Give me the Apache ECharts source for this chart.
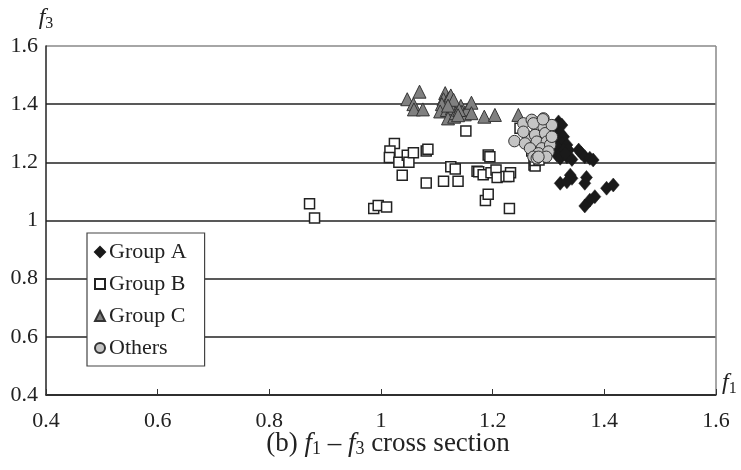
<!DOCTYPE html>
<html><head><meta charset="utf-8">
<script src="https://cdn.jsdelivr.net/npm/echarts@6/dist/echarts.min.js"></script>
<style>html,body{margin:0;padding:0;background:#fff}#c{width:741px;height:470px}</style>
</head><body><div id="c"></div>
<script>
const xTicks = [0.4, 0.6, 0.8, 1.0, 1.2, 1.4, 1.6];
const yTicks = [0.4, 0.6, 0.8, 1.0, 1.2, 1.4, 1.6];
const seriesNames = ['Group A', 'Group B', 'Group C', 'Others'];

const groupA = [
  [1.318,1.339],[1.324,1.328],[1.312,1.311],[1.321,1.300],[1.327,1.288],[1.315,1.277],
  [1.324,1.265],[1.333,1.260],[1.318,1.248],[1.327,1.242],[1.336,1.242],[1.315,1.225],
  [1.321,1.214],[1.333,1.219],[1.342,1.210],[1.354,1.242],[1.359,1.231],[1.365,1.219],
  [1.374,1.214],[1.380,1.208],[1.339,1.156],[1.342,1.145],[1.321,1.128],[1.333,1.133],
  [1.368,1.148],[1.365,1.128],[1.383,1.082],[1.374,1.070],[1.365,1.050],[1.404,1.111],
  [1.416,1.122],[1.309,1.296],[1.313,1.258],[1.330,1.230]
];
const groupB = [
  [0.872,1.058],[0.881,1.009],[0.987,1.041],[0.995,1.052],[1.010,1.046],
  [1.187,1.069],[1.192,1.090],[1.230,1.041],
  [1.024,1.265],[1.016,1.239],[1.015,1.217],[1.032,1.200],[1.047,1.224],[1.050,1.200],
  [1.058,1.233],[1.081,1.239],[1.084,1.245],[1.038,1.156],[1.081,1.129],[1.112,1.135],
  [1.138,1.135],[1.125,1.185],[1.133,1.177],[1.152,1.308],[1.172,1.169],
  [1.192,1.225],[1.195,1.219],[1.175,1.168],[1.183,1.157],[1.197,1.164],[1.206,1.174],
  [1.208,1.148],[1.224,1.151],[1.232,1.164],[1.229,1.151],
  [1.274,1.191],[1.249,1.317],[1.270,1.239],[1.276,1.187],[1.276,1.206],[1.283,1.208]
];
const groupC = [
  [1.047,1.417],[1.069,1.443],[1.058,1.400],[1.059,1.382],[1.075,1.382],
  [1.115,1.438],[1.112,1.417],[1.121,1.420],[1.109,1.400],[1.124,1.403],[1.106,1.375],
  [1.118,1.380],[1.127,1.386],[1.120,1.351],[1.131,1.357],[1.134,1.369],[1.143,1.394],
  [1.145,1.374],[1.150,1.365],[1.155,1.382],[1.162,1.405],[1.162,1.369],
  [1.185,1.357],[1.204,1.363],[1.246,1.363],[1.125,1.430],[1.130,1.415],[1.140,1.380],
  [1.120,1.395],[1.138,1.362]
];
const others = [
  [1.239,1.273],[1.255,1.334],[1.270,1.346],[1.291,1.351],[1.279,1.323],[1.291,1.323],
  [1.264,1.288],[1.276,1.294],[1.294,1.300],[1.258,1.265],[1.279,1.271],[1.297,1.271],
  [1.267,1.248],[1.288,1.248],[1.303,1.260],[1.282,1.231],[1.300,1.237],[1.273,1.219],
  [1.279,1.214],[1.296,1.219],[1.306,1.328],[1.306,1.288],[1.255,1.305],[1.273,1.334],
  [1.290,1.348],[1.282,1.219]
];

const serif = 'Liberation Serif';
const chart = echarts.init(document.getElementById('c'), null, {renderer: 'canvas'});
chart.setOption({
  animation: false,
  backgroundColor: '#fff',
  textStyle: {fontFamily: serif},
  grid: {left: 46, right: 25, top: 46, bottom: 75, containLabel: false},
  title: {
    text: '(b) {i|f}{s|1}{n| – }{i|f}{s|3}{n| cross section}',
    left: 383, textAlign: 'center', top: 424,
    textStyle: {
      fontFamily: serif, fontSize: 27, fontWeight: 'normal', color: '#222',
      rich: {
        i: {fontFamily: serif, fontStyle: 'italic', fontSize: 27, color: '#222'},
        s: {fontFamily: serif, fontSize: 18, color: '#222', padding: [11, 0, 0, 0]},
        n: {fontFamily: serif, fontSize: 27, color: '#222'}
      }
    }
  },
  legend: {
    orient: 'vertical', left: 87, top: 233,
    backgroundColor: '#fff', borderColor: '#444', borderWidth: 1.2, borderRadius: 0,
    padding: [8, 18, 7, 7],
    itemGap: 10, itemWidth: 10, itemHeight: 10,
    textStyle: {fontFamily: serif, fontSize: 22, color: '#222', padding: [0, 0, 0, -1]},
    data: seriesNames
  },
  xAxis: {
    type: 'value', min: xTicks[0], max: xTicks[xTicks.length - 1], interval: 0.2,
    name: '{i|f}{s|1}', nameLocation: 'end', nameGap: 6,
    nameTextStyle: {
      rich: {
        i: {fontFamily: serif, fontStyle: 'italic', fontSize: 24, color: '#222'},
        s: {fontFamily: serif, fontSize: 16, color: '#222', padding: [12, 0, 0, 0]}
      },
      padding: [0, 0, 24, 0]
    },
    axisLine: {show: true, lineStyle: {color: '#222', width: 1.5}},
    axisTick: {show: true, inside: true, length: 6, lineStyle: {color: '#333', width: 1}},
    axisLabel: {fontFamily: serif, fontSize: 22, color: '#222', margin: 15},
    splitLine: {show: true, lineStyle: {color: ['transparent','transparent','transparent','transparent','transparent','transparent','#888'], width: 1.5}}
  },
  yAxis: {
    type: 'value', min: yTicks[0], max: yTicks[yTicks.length - 1], interval: 0.2,
    name: '{i|f}{s|3}', nameLocation: 'end', nameGap: 14,
    nameTextStyle: {
      align: 'center',
      rich: {
        i: {fontFamily: serif, fontStyle: 'italic', fontSize: 24, color: '#222'},
        s: {fontFamily: serif, fontSize: 16, color: '#222', padding: [12, 0, 0, 0]}
      }
    },
    axisLine: {show: true, lineStyle: {color: '#222', width: 1.5}},
    axisTick: {show: false},
    axisLabel: {fontFamily: serif, fontSize: 22, color: '#222', margin: 8},
    splitLine: {show: true, lineStyle: {color: ['#222','#222','#222','#222','#222','#222','#888'], width: 1.5}}
  },
  series: [
    {name: seriesNames[0], type: 'scatter', symbol: 'diamond', symbolSize: [12, 14], data: groupA,
     itemStyle: {color: '#1a1a1a', borderColor: '#1a1a1a', borderWidth: 0.5, opacity: 1}},
    {name: seriesNames[1], type: 'scatter', symbol: 'rect', symbolSize: 10, data: groupB,
     itemStyle: {color: '#fff', borderColor: '#222', borderWidth: 1.5, opacity: 1}},
    {name: seriesNames[2], type: 'scatter', symbol: 'triangle', symbolSize: 13, data: groupC,
     itemStyle: {color: '#808080', borderColor: '#333', borderWidth: 1, opacity: 1}},
    {name: seriesNames[3], type: 'scatter', symbol: 'circle', symbolSize: 11.5, data: others,
     itemStyle: {color: '#c4c4c4', borderColor: '#333', borderWidth: 1, opacity: 1}}
  ]
});
</script></body></html>
